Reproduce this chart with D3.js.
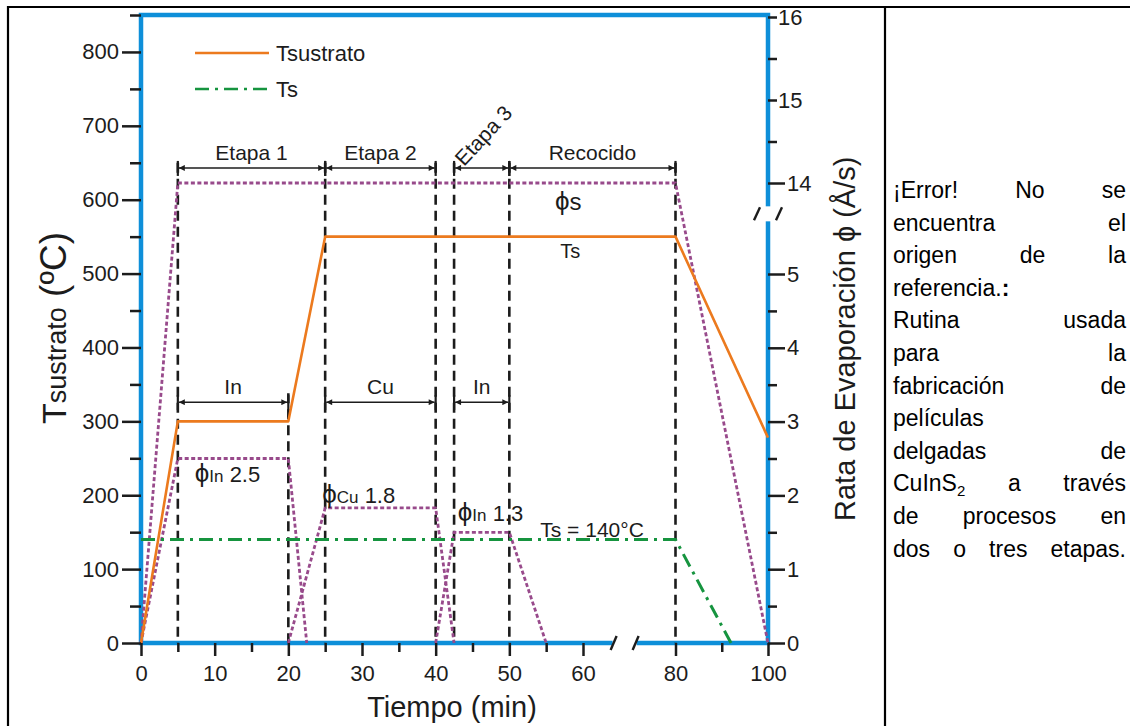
<!DOCTYPE html>
<html>
<head>
<meta charset="utf-8">
<script src="https://cdn.jsdelivr.net/npm/d3@7"></script>
<style>
  body { margin: 0; background: #fff; }
  svg { display: block; font-family: "Liberation Sans", Arial, sans-serif; }
</style>
</head>
<body>
<div id="chart"></div>
<script>
(function(d3) {
  'use strict';

  var width = 1130;
  var height = 726;

  // substrate temperature (ºC) vs time (min)
  var subTime = [0, 5, 20, 25, 80, 100];
  var subTemp = [0, 300, 300, 550, 550, 278];

  // Ts source temperature
  var tsTime = [0, 80, 92];
  var tsTemp = [140, 140, 0];

  // evaporation rates (Å/s)
  var phiSTime = [0, 5, 80, 100];
  var phiSRate = [0, 14, 14, 0];
  var phiIn1Time = [0, 5, 20, 22.5];
  var phiIn1Rate = [0, 2.5, 2.5, 0];
  var phiCuTime = [20, 25, 40, 42.5];
  var phiCuRate = [0, 1.83, 1.83, 0];
  var phiIn2Time = [40, 42.5, 50, 55];
  var phiIn2Rate = [0, 1.5, 1.5, 0];

  // stages and sources
  var stageNames = ['Etapa 1', 'Etapa 2', 'Etapa 3', 'Recocido'];
  var stageStart = [5, 25, 42.5, 50];
  var stageEnd = [25, 40, 50, 80];
  var sourceNames = ['In', 'Cu', 'In'];
  var sourceStart = [5, 25, 42.5];
  var sourceEnd = [20, 40, 50];

  // ticks
  var xMajor = [0, 10, 20, 30, 40, 50, 60, 80, 100];
  var xMinor = [5, 15, 25, 35, 45, 55, 90];
  var yLeftMajor = [0, 100, 200, 300, 400, 500, 600, 700, 800];
  var yLeftMinor = [50, 150, 250, 350, 450, 550, 650, 750, 850];
  var yRightMajor = [0, 1, 2, 3, 4, 5, 14, 15, 16];
  var yRightMinor = [0.5, 1.5, 2.5, 3.5, 4.5, 14.5, 15.5];

  // caption text of the table cell
  var captionLines = [
    ['¡Error!', 'No', 'se'],
    ['encuentra', 'el'],
    ['origen', 'de', 'la'],
    ['referencia.:'],
    ['Rutina', 'usada'],
    ['para', 'la'],
    ['fabricación', 'de'],
    ['películas'],
    ['delgadas', 'de'],
    ['CuInS2', 'a', 'través'],
    ['de', 'procesos', 'en'],
    ['dos', 'o', 'tres', 'etapas.']
  ];

  var blue = '#0e8fd9';
  var orange = '#ec7a1e';
  var green = '#16943f';
  var purple = '#984a8b';
  var ink = '#1c1c1c';

  var svg = d3.select('#chart')
    .append('svg')
    .attr('width', width)
    .attr('height', height);

  svg.append('rect').attr('width', width).attr('height', height).attr('fill', '#fff');

  // table frame
  svg.append('line').attr('x1', 7).attr('x2', width).attr('y1', 7).attr('y2', 7)
    .attr('stroke', '#000').attr('stroke-width', 2.2);
  svg.append('line').attr('x1', 8).attr('x2', 8).attr('y1', 6).attr('y2', height)
    .attr('stroke', '#000').attr('stroke-width', 2.2);
  svg.append('line').attr('x1', 885).attr('x2', 885).attr('y1', 6).attr('y2', height)
    .attr('stroke', '#000').attr('stroke-width', 2.2);

  // scales (broken axes are piecewise)
  var x = d3.scaleLinear().domain([0, 60, 100]).range([141, 583, 768]);
  var yT = d3.scaleLinear().domain([0, 850]).range([643, 15]);
  var yR = d3.scaleLinear().domain([0, 5, 14, 16]).range([643, 274, 183, 17]);

  var defs = svg.append('defs');
  defs.append('marker')
    .attr('id', 'arrow')
    .attr('viewBox', '0 0 10 10')
    .attr('refX', 10).attr('refY', 5)
    .attr('markerWidth', 9).attr('markerHeight', 6)
    .attr('markerUnits', 'userSpaceOnUse')
    .attr('orient', 'auto-start-reverse')
    .append('path').attr('d', 'M0,0L10,5L0,10z').attr('fill', ink);

  // blue frame
  svg.append('rect')
    .attr('x', x(0)).attr('y', yT(850))
    .attr('width', x(100) - x(0)).attr('height', yT(0) - yT(850))
    .attr('fill', 'none').attr('stroke', blue).attr('stroke-width', 4.5);

  // axis breaks
  var xBreak = 69, rBreak = 11;
  svg.append('rect').attr('x', x(xBreak) - 12).attr('y', yT(0) - 4).attr('width', 24).attr('height', 8).attr('fill', '#fff');
  svg.append('rect').attr('x', x(100) - 4).attr('y', yR(rBreak) - 7).attr('width', 8).attr('height', 15).attr('fill', '#fff');
  [-11, 11].forEach(function(o) {
    svg.append('line')
      .attr('x1', x(xBreak) + o - 3).attr('y1', yT(0) + 7)
      .attr('x2', x(xBreak) + o + 3).attr('y2', yT(0) - 7)
      .attr('stroke', ink).attr('stroke-width', 2.4);
    svg.append('line')
      .attr('x1', x(100) + o - 3).attr('y1', yR(rBreak) + 7)
      .attr('x2', x(100) + o + 3).attr('y2', yR(rBreak) - 6)
      .attr('stroke', ink).attr('stroke-width', 2.4);
  });

  // stage boundaries (dashed)
  var stageBounds = d3.union(stageStart, stageEnd);
  var sourceBounds = Array.from(d3.union(sourceStart, sourceEnd)).filter(function(v) { return !stageBounds.has(v); });
  var arrowStageT = 643, arrowSourceT = 326;

  svg.selectAll('.stage-line')
    .data(Array.from(stageBounds).map(function(v) { return {t: v, top: arrowStageT + 7}; })
      .concat(sourceBounds.map(function(v) { return {t: v, top: arrowSourceT + 12}; })))
    .enter()
    .append('line')
    .attr('class', 'stage-line')
    .attr('x1', function(d) { return x(d.t); })
    .attr('x2', function(d) { return x(d.t); })
    .attr('y1', function(d) { return yT(d.top); })
    .attr('y2', yT(0))
    .attr('stroke', ink).attr('stroke-width', 2.6)
    .attr('stroke-dasharray', '10,6');

  // double arrows with labels
  function arrows(names, starts, ends, tLevel, cls) {
    var g = svg.selectAll('.' + cls)
      .data(names.map(function(n, i) { return {name: n, a: starts[i], b: ends[i]}; }))
      .enter()
      .append('g')
      .attr('class', cls);

    g.append('line')
      .attr('x1', function(d) { return x(d.a) + 1; })
      .attr('x2', function(d) { return x(d.b) - 1; })
      .attr('y1', yT(tLevel)).attr('y2', yT(tLevel))
      .attr('stroke', ink).attr('stroke-width', 1.5)
      .attr('marker-start', 'url(#arrow)')
      .attr('marker-end', 'url(#arrow)');

    g.selectAll('.bar')
      .data(function(d) { return [d.a, d.b]; })
      .enter()
      .append('line')
      .attr('x1', function(v) { return x(v); })
      .attr('x2', function(v) { return x(v); })
      .attr('y1', yT(tLevel) - 7).attr('y2', yT(tLevel) + 8)
      .attr('stroke', ink).attr('stroke-width', 2.2);

    // labels too wide for their span are tilted
    g.append('text')
      .attr('font-size', 21)
      .attr('fill', ink)
      .text(function(d) { return d.name; })
      .each(function(d) {
        var t = d3.select(this);
        var w = x(d.b) - x(d.a);
        if (this.getComputedTextLength() > w - 6) {
          t.attr('text-anchor', 'start')
            .attr('transform', 'translate(' + (x(d.a) + 10) + ',' + (yT(tLevel) - 1) + ') rotate(-47)');
        } else {
          t.attr('text-anchor', 'middle')
            .attr('transform', 'translate(' + (x(d.a) + w / 2) + ',' + (yT(tLevel) - 8) + ')');
        }
      });
  }
  arrows(stageNames, stageStart, stageEnd, arrowStageT, 'stage');
  arrows(sourceNames, sourceStart, sourceEnd, arrowSourceT, 'source');

  // series lines
  function series(times, vals, yScale, color, w, dash) {
    var line = d3.line()
      .x(function(d) { return x(d[0]); })
      .y(function(d) { return yScale(d[1]); });
    svg.append('path')
      .datum(times.map(function(t, i) { return [t, vals[i]]; }))
      .attr('d', line)
      .attr('fill', 'none')
      .attr('stroke', color)
      .attr('stroke-width', w)
      .attr('stroke-dasharray', dash)
      .attr('stroke-linejoin', 'round');
  }
  series(phiSTime, phiSRate, yR, purple, 2.8, '4,2.5');
  series(phiIn1Time, phiIn1Rate, yR, purple, 2.8, '4,2.5');
  series(phiCuTime, phiCuRate, yR, purple, 2.8, '4,2.5');
  series(phiIn2Time, phiIn2Rate, yR, purple, 2.8, '4,2.5');
  series(tsTime, tsTemp, yT, green, 3, '14,6,3,6');
  series(subTime, subTemp, yT, orange, 2.6, null);

  // axes
  function styleAxis(g) {
    g.select('.domain').remove();
    g.selectAll('.tick line').attr('stroke', ink).attr('stroke-width', 2.5);
    g.selectAll('.tick text').attr('fill', ink).attr('font-size', 22)
      .attr('font-family', '"Liberation Sans", Arial, sans-serif');
  }

  svg.append('g').attr('transform', 'translate(' + x(0) + ',0)')
    .call(d3.axisLeft(yT).tickValues(yLeftMinor).tickSize(11).tickFormat(''))
    .call(styleAxis);
  svg.append('g').attr('transform', 'translate(' + x(0) + ',0)')
    .call(d3.axisLeft(yT).tickValues(yLeftMajor).tickSize(19).tickPadding(3).tickFormat(d3.format('d')))
    .call(styleAxis);

  svg.append('g').attr('transform', 'translate(0,' + yT(0) + ')')
    .call(d3.axisBottom(x).tickValues(xMinor).tickSize(9).tickFormat(''))
    .call(styleAxis);
  svg.append('g').attr('transform', 'translate(0,' + yT(0) + ')')
    .call(d3.axisBottom(x).tickValues(xMajor).tickSize(13).tickPadding(9).tickFormat(d3.format('d')))
    .call(styleAxis);

  svg.append('g').attr('transform', 'translate(' + x(100) + ',0)')
    .call(d3.axisRight(yR).tickValues(yRightMinor).tickSize(9).tickFormat(''))
    .call(styleAxis);
  var rAxis = svg.append('g').attr('transform', 'translate(' + x(100) + ',0)')
    .call(d3.axisRight(yR).tickValues(yRightMajor).tickSize(17).tickPadding(2).tickFormat(d3.format('d')))
    .call(styleAxis);
  rAxis.selectAll('.tick line').attr('x2', function(d) { return d >= 15 ? 9 : 17; });
  rAxis.selectAll('.tick text').attr('x', function(d) { return d >= 15 ? 10 : 19; });

  // axis titles
  var yl = svg.append('text')
    .attr('transform', 'translate(66,424) rotate(-90)')
    .attr('font-size', 34).attr('fill', ink);
  yl.append('tspan').text('T');
  yl.append('tspan').attr('font-size', 27).text('sustrato');
  yl.append('tspan').attr('font-size', 37).text(' (ºC)');

  svg.append('text')
    .attr('transform', 'translate(855,521) rotate(-90)')
    .attr('font-size', 29).attr('fill', ink)
    .text('Rata de Evaporación ϕ (Å/s)');

  svg.append('text')
    .attr('x', 452).attr('y', 717)
    .attr('text-anchor', 'middle')
    .attr('font-size', 29).attr('fill', ink)
    .text('Tiempo (min)');

  // legend
  var legend = svg.selectAll('.legend')
    .data([{label: 'Tsustrato', color: orange, dash: null}, {label: 'Ts', color: green, dash: '14,6,3,6'}])
    .enter()
    .append('g')
    .attr('class', 'legend')
    .attr('transform', function(d, i) { return 'translate(195,' + (53 + i * 36) + ')'; });
  legend.append('line')
    .attr('x1', 0).attr('x2', 74)
    .attr('stroke', function(d) { return d.color; })
    .attr('stroke-width', 2.6)
    .attr('stroke-dasharray', function(d) { return d.dash; });
  legend.append('text')
    .attr('x', 81).attr('y', 8)
    .attr('font-size', 22).attr('fill', ink)
    .text(function(d) { return d.label; });

  // rate annotations (time, temperature scale)
  var phiSub = ['s', 'In', 'Cu', 'In'];
  var phiVal = ['', '2.5', '1.8', '1.3'];
  var phiAtT = [56.2, 7.3, 24.6, 43];
  var phiAtY = [586, 218, 189, 165];

  phiSub.forEach(function(s, i) {
    var t = svg.append('text')
      .attr('x', x(phiAtT[i])).attr('y', yT(phiAtY[i]))
      .attr('font-size', 26).attr('fill', ink);
    t.append('tspan').text('ϕ');
    t.append('tspan').attr('font-size', i === 0 ? 24 : 17).text(s);
    if (phiVal[i]) t.append('tspan').attr('font-size', 22).text(' ' + phiVal[i]);
  });

  svg.append('text')
    .attr('x', x(56.9)).attr('y', yT(521))
    .attr('font-size', 20).attr('fill', ink)
    .text('Ts');
  svg.append('text')
    .attr('x', x(54.2)).attr('y', yT(143.5))
    .attr('font-size', 21).attr('fill', ink)
    .text('Ts = 140°C');

  // caption, justified in the right cell
  var capLeft = 893, capRight = 1126, capTop = 198, capStep = 32.6, capSize = 23;
  captionLines.forEach(function(words, li) {
    var y = capTop + li * capStep;
    var nodes = words.map(function(w) {
      var t = svg.append('text').attr('y', y).attr('font-size', capSize).attr('fill', '#000');
      if (/S2$/.test(w)) {
        t.append('tspan').text(w.slice(0, -1));
        t.append('tspan').attr('font-size', 15).attr('dy', 5).text('2');
      } else if (/:$/.test(w)) {
        t.append('tspan').text(w.slice(0, -1));
        t.append('tspan').attr('font-weight', 'bold').text(':');
      } else {
        t.text(w);
      }
      return t;
    });
    var widths = nodes.map(function(n) { return n.node().getComputedTextLength(); });
    var gap = words.length > 1
      ? (capRight - capLeft - d3.sum(widths)) / (words.length - 1)
      : 0;
    var cx = capLeft;
    nodes.forEach(function(n, i) {
      n.attr('x', cx);
      cx += widths[i] + gap;
    });
  });

})(window.d3);
</script>
</body>
</html>
